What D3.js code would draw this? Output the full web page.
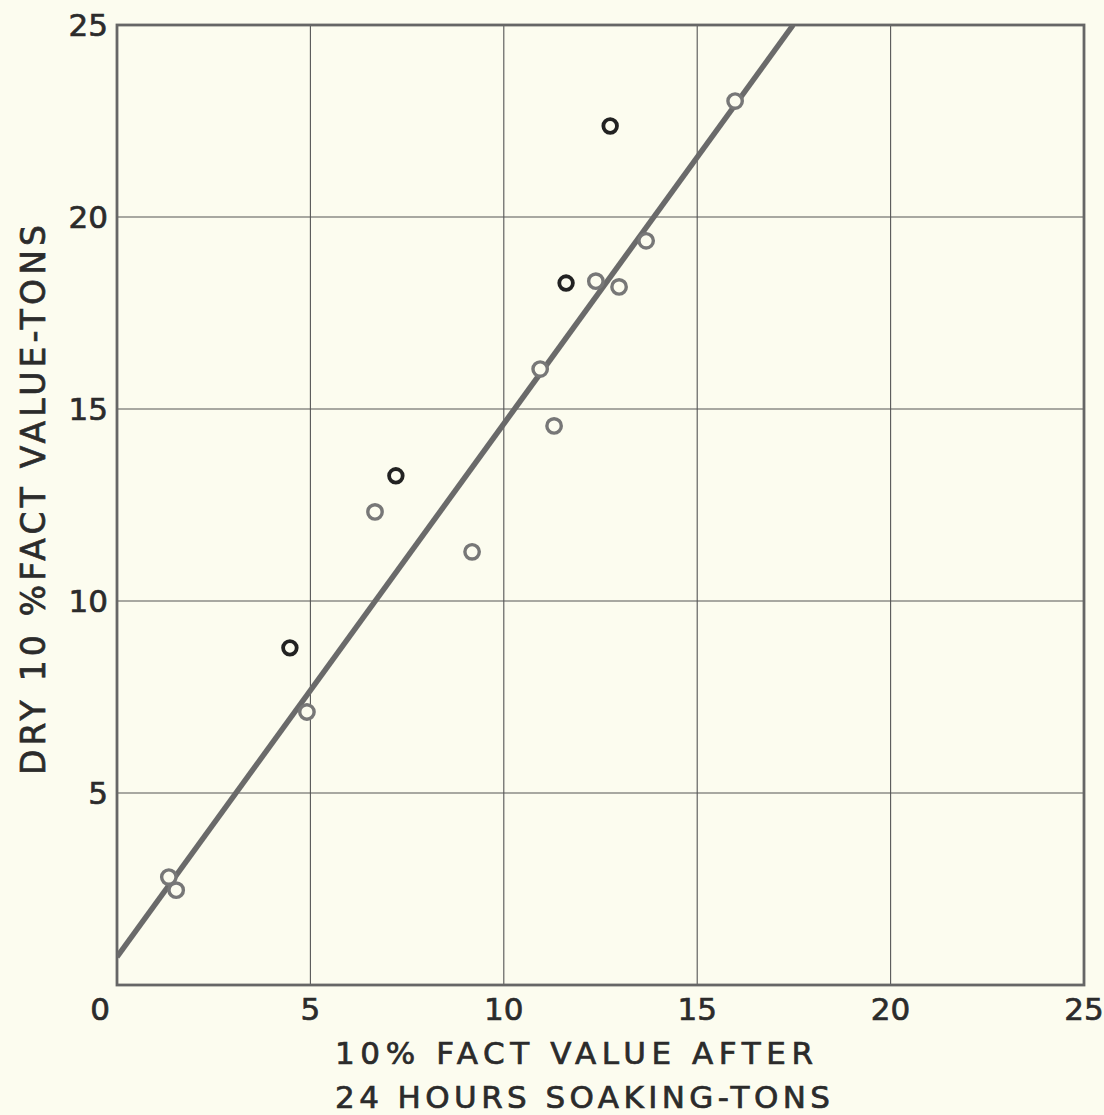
<!DOCTYPE html>
<html>
<head>
<meta charset="utf-8">
<script src="https://cdn.jsdelivr.net/npm/d3@7"></script>
<style>
  body { margin: 0; background: #fcfcef; }
  svg { display: block; }
  text { stroke: #2b2b2b; stroke-width: 0.7; }
</style>
</head>
<body>
<svg id="chart" width="1104" height="1115"></svg>
<script>
// soaked (x) vs dry (y) fact values, tons
var greyX = [1.34, 1.53, 4.91, 6.67, 9.18, 10.94, 11.30, 12.38, 12.98, 13.68, 15.98];
var greyY = [2.81, 2.47, 7.11, 12.32, 11.28, 16.04, 14.56, 18.33, 18.18, 19.38, 23.02];
var darkX = [4.47, 7.21, 11.61, 12.75];
var darkY = [8.78, 13.26, 18.28, 22.37];
var fitLine = [[0, 0.73], [17.48, 25]];
var xTicks = [0, 5, 10, 15, 20, 25];
var yTicks = [5, 10, 15, 20, 25];
var xTitle = ["10% FACT VALUE AFTER", "24 HOURS SOAKING-TONS"];
var yTitle = "DRY 10 %FACT VALUE-TONS";

(function(){
  var bg = "#fcfcef";
  var ink = "#2b2b2b";
  var font = "'DejaVu Sans', sans-serif";

  var svg = d3.select("#chart");
  var x0 = 117, x1 = 1084, y0 = 25, y1 = 985;

  var x = d3.scaleLinear().domain([0, 25]).range([x0, x1]);
  var y = d3.scaleLinear().domain([0, 25]).range([y1, y0]);

  // grid
  svg.append("g").selectAll("line").data(xTicks.slice(1, -1)).enter()
    .append("line")
    .attr("x1", function(d){ return x(d); })
    .attr("x2", function(d){ return x(d); })
    .attr("y1", y0).attr("y2", y1)
    .attr("stroke", "#555").attr("stroke-width", 1.1);
  svg.append("g").selectAll("line").data(yTicks.slice(0, -1)).enter()
    .append("line")
    .attr("y1", function(d){ return y(d); })
    .attr("y2", function(d){ return y(d); })
    .attr("x1", x0).attr("x2", x1)
    .attr("stroke", "#555").attr("stroke-width", 1.1);

  // frame
  svg.append("rect")
    .attr("x", x0).attr("y", y0)
    .attr("width", x1 - x0).attr("height", y1 - y0)
    .attr("fill", "none").attr("stroke", "#666").attr("stroke-width", 2.8);

  // fitted line
  svg.append("clipPath").attr("id", "plotclip")
    .append("rect").attr("x", x0).attr("y", y0)
    .attr("width", x1 - x0).attr("height", y1 - y0);
  svg.append("path")
    .datum(fitLine)
    .attr("clip-path", "url(#plotclip)")
    .attr("d", d3.line().x(function(d){ return x(d[0]); }).y(function(d){ return y(d[1]); }))
    .attr("fill", "none").attr("stroke", "#6a6a6a").attr("stroke-width", 5.5);

  // points
  svg.append("g").selectAll("circle").data(d3.range(greyX.length)).enter()
    .append("circle")
    .attr("cx", function(i){ return x(greyX[i]); })
    .attr("cy", function(i){ return y(greyY[i]); })
    .attr("r", 7.2)
    .attr("fill", bg).attr("stroke", "#777").attr("stroke-width", 3.4);
  svg.append("g").selectAll("circle").data(d3.range(darkX.length)).enter()
    .append("circle")
    .attr("cx", function(i){ return x(darkX[i]); })
    .attr("cy", function(i){ return y(darkY[i]); })
    .attr("r", 6.8)
    .attr("fill", bg).attr("stroke", "#222").attr("stroke-width", 3.8);

  // tick labels
  svg.append("g").selectAll("text").data(xTicks).enter()
    .append("text")
    .attr("x", function(d){ return d === 0 ? x(d) - 17 : x(d); })
    .attr("y", 1020)
    .attr("text-anchor", "middle")
    .attr("font-family", font).attr("font-size", 31)
    .attr("fill", ink)
    .text(function(d){ return d; });
  svg.append("g").selectAll("text").data(yTicks).enter()
    .append("text")
    .attr("x", 108)
    .attr("y", function(d){ return y(d) + 11; })
    .attr("text-anchor", "end")
    .attr("font-family", font).attr("font-size", 31)
    .attr("fill", ink)
    .text(function(d){ return d; });

  // axis titles
  svg.append("text").attr("x", 335).attr("y", 1064)
    .attr("font-family", font).attr("font-size", 31).attr("fill", ink)
    .attr("textLength", 478).attr("lengthAdjust", "spacing")
    .text(xTitle[0]);
  svg.append("text").attr("x", 335).attr("y", 1108)
    .attr("font-family", font).attr("font-size", 31).attr("fill", ink)
    .attr("textLength", 495).attr("lengthAdjust", "spacing")
    .text(xTitle[1]);
  svg.append("text")
    .attr("transform", "translate(45,775) rotate(-90)")
    .attr("font-family", font).attr("font-size", 33).attr("fill", ink)
    .attr("textLength", 550).attr("lengthAdjust", "spacing")
    .text(yTitle);
})();
</script>
</body>
</html>
